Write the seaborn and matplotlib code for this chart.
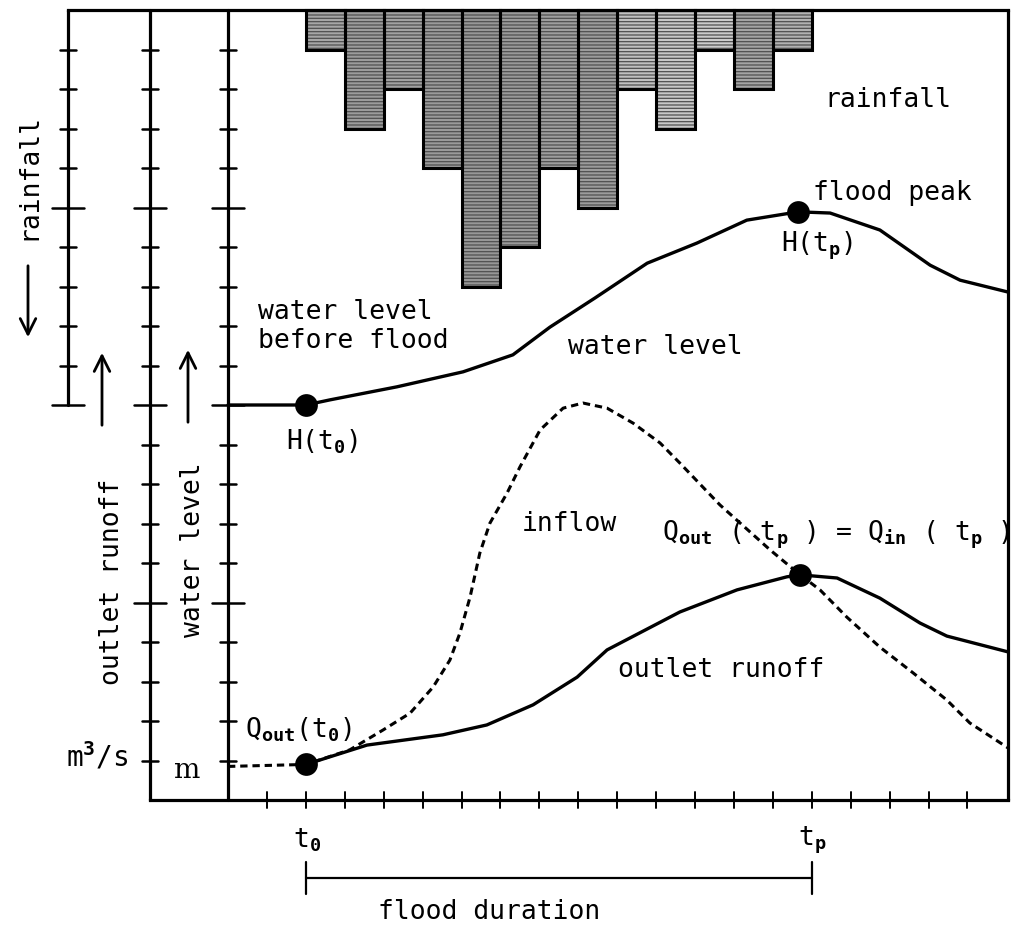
import matplotlib
matplotlib.use("Agg")
import matplotlib.pyplot as plt
import seaborn as sns
import numpy as np

sns.set_theme(style="white")
plt.rcParams['font.family'] = ['DejaVu Sans Mono', 'DejaVu Sans']
plt.rcParams['mathtext.fontset'] = 'custom'
plt.rcParams['mathtext.rm'] = 'DejaVu Sans Mono:bold'
plt.rcParams['mathtext.it'] = 'DejaVu Sans Mono:bold'
plt.rcParams['mathtext.bf'] = 'DejaVu Sans Mono:bold'
plt.rcParams['hatch.linewidth'] = 0.9

# ---------------- data (time units, level units) ----------------
rain_t = [2, 3, 4, 5, 6, 7, 8, 9, 10, 11, 12, 13, 14]
rain_depth = [1, 3, 2, 4, 7, 6, 4, 5, 2, 3, 1, 2, 1]
rain_colors = ['#a6a6a6', '#9c9c9c', '#a2a2a2', '#9a9a9a', '#979797', '#999999',
               '#9e9e9e', '#9c9c9c', '#c0c0c0', '#c8c8c8', '#cccccc', '#a4a4a4', '#b2b2b2']

wl_t = [0.0, 2.0, 2.62, 4.34, 6.04, 7.32, 8.27, 9.43, 10.77, 12.05, 13.33, 14.65,
        15.47, 16.75, 18.04, 18.81, 20.04]
wl_v = [10.0, 10.0, 10.13, 10.46, 10.84, 11.27, 11.97, 12.71, 13.59, 14.10, 14.68, 14.89,
        14.86, 14.43, 13.54, 13.16, 12.86]

out_t = [2.0, 3.57, 5.52, 6.65, 7.84, 8.97, 9.74, 11.61, 13.08, 14.36, 14.70,
         15.65, 16.75, 17.78, 18.47, 20.04]
out_v = [0.9, 1.39, 1.65, 1.90, 2.41, 3.11, 3.80, 4.76, 5.32, 5.65, 5.70,
         5.62, 5.11, 4.48, 4.15, 3.75]

in_t = [0.0, 2.0, 3.13, 3.98, 4.68, 5.27, 5.70, 5.96, 6.22, 6.47, 6.73, 7.17, 7.50,
        8.02, 8.61, 9.12, 9.74, 10.41, 11.10, 11.61, 12.64, 13.93, 14.70, 15.21,
        15.90, 16.75, 17.60, 18.47, 19.06, 20.04]
in_v = [0.85, 0.9, 1.27, 1.77, 2.20, 2.86, 3.54, 4.23, 5.14, 6.25, 7.01, 7.77, 8.43,
        9.37, 9.92, 10.05, 9.92, 9.54, 9.04, 8.53, 7.47, 6.33, 5.70, 5.32,
        4.63, 3.87, 3.22, 2.53, 1.95, 1.32]

dot_t = [2.0, 14.65, 2.0, 14.70]
dot_v = [10.0, 14.89, 0.9, 5.70]

t0, tp = 2, 15
time_ticks = list(range(1, 20))
level_ticks = list(range(1, 20))
rain_ticks = list(range(10, 20))
major_ticks = [5, 10, 15]

# ---------------- layout helpers (pixel -> data) ----------------
W, H = 1011, 932
XU, YU = 38.92, 39.5
X0, Y0 = 228, 10
def P(px, py):
    return ((px - X0) / XU, 20 - (py - Y0) / YU)

fig = plt.figure(figsize=(W / 100, H / 100), dpi=100)
ax = fig.add_axes([0, 0, 1, 1])

K = 'black'
LW = 2.3

# frame / axes lines
x_rain = P(68, 0)[0]
x_out = P(150, 0)[0]
x_right = P(1008, 0)[0]
ax.plot([x_rain, x_right], [20, 20], color=K, lw=LW, solid_capstyle='projecting')
ax.plot([x_right, x_right], [20, 0], color=K, lw=LW)
ax.plot([x_out, x_right], [0, 0], color=K, lw=LW, solid_capstyle='projecting')
ax.plot([x_out, x_out], [20, 0], color=K, lw=LW)
ax.plot([0, 0], [20, 0], color=K, lw=LW)
ax.plot([x_rain, x_rain], [20, 10], color=K, lw=LW)

# vertical-axis ticks
hs, hl = 8 / XU, 16 / XU
for xa, ticks in [(x_out, level_ticks), (0, level_ticks), (x_rain, rain_ticks)]:
    for v in ticks:
        h = hl if v in major_ticks else hs
        ax.plot([xa - h, xa + h], [v, v], color=K, lw=1.8)
# time ticks
vh = 8 / YU
for t in time_ticks:
    ax.plot([t, t], [-vh, vh], color=K, lw=1.4)

# rainfall bars hanging from the top
ax.bar(rain_t, [-d for d in rain_depth], bottom=20, width=1.0, align='edge',
       color=rain_colors, edgecolor='#505050', linewidth=0, hatch='-----', zorder=2)
ax.bar(rain_t, [-d for d in rain_depth], bottom=20, width=1.0, align='edge',
       fill=False, edgecolor=K, linewidth=2.2, zorder=3)

# curves
sns.lineplot(x=wl_t, y=wl_v, sort=False, estimator=None, color=K, lw=2.4, ax=ax)
sns.lineplot(x=out_t, y=out_v, sort=False, estimator=None, color=K, lw=2.4, ax=ax)
sns.lineplot(x=in_t, y=in_v, sort=False, estimator=None, color=K, lw=2.2,
             linestyle=(0, (2.4, 1.6)), ax=ax)
sns.scatterplot(x=dot_t, y=dot_v, s=230, color=K, edgecolor=K, zorder=5, ax=ax)
ax.set_xlim(P(0, 0)[0], P(W, 0)[0])
ax.set_ylim(P(0, H)[1], P(0, 0)[1])
ax.axis('off')
if ax.get_legend():
    ax.get_legend().remove()

# flood duration bar
yb = P(0, 878)[1]
ax.plot([t0, tp], [yb, yb], color=K, lw=1.6)
for t in (t0, tp):
    ax.plot([t, t], [P(0, 862)[1], P(0, 894)[1]], color=K, lw=1.6)

FS = 19
def T(px, py, s, ha='left', va='center', **kw):
    x, y = P(px, py)
    ax.text(x, y, s, ha=ha, va=va, fontsize=kw.pop('fs', FS), color=K, **kw)

T(888, 100, 'rainfall', ha='center')
T(813, 193, 'flood peak')
T(817, 246, r'H(t$_{\mathrm{p}}$)', ha='center')
T(655, 347, 'water level', ha='center')
T(258, 326, 'water level\nbefore flood', linespacing=1.15)
T(322, 442, r'H(t$_{\mathrm{0}}$)', ha='center')
T(569, 524, 'inflow', ha='center')
T(721, 670, 'outlet runoff', ha='center')
T(1010, 535, r'Q$_{\mathrm{out}}$ ( t$_{\mathrm{p}}$ ) = Q$_{\mathrm{in}}$ ( t$_{\mathrm{p}}$ )',
  ha='right')
T(245, 730, r'Q$_{\mathrm{out}}$(t$_{\mathrm{0}}$)')
T(97, 757, r'm$^{3}$/s', ha='center', fs=20)
T(186, 770, 'm', ha='center', family='DejaVu Serif', fs=20)
T(307, 840, r't$_{\mathrm{0}}$', ha='center')
T(812, 840, r't$_{\mathrm{p}}$', ha='center')
T(489, 912, 'flood duration', ha='center')
T(28, 176, 'rainfall', ha='center', rotation=90)
T(112, 582, 'outlet runoff', ha='center', rotation=90)
T(193, 550, 'water level', ha='center', rotation=90)

def arrow(px, py_from, py_to):
    a = P(px, py_from)
    b = P(px, py_to)
    ax.annotate('', xy=b, xytext=a,
                arrowprops=dict(arrowstyle='->', color=K, lw=2.0, mutation_scale=28))

arrow(28, 263, 340)
arrow(102, 428, 350)
arrow(188, 425, 347)

fig.savefig('out.png', dpi=100, facecolor='white')
